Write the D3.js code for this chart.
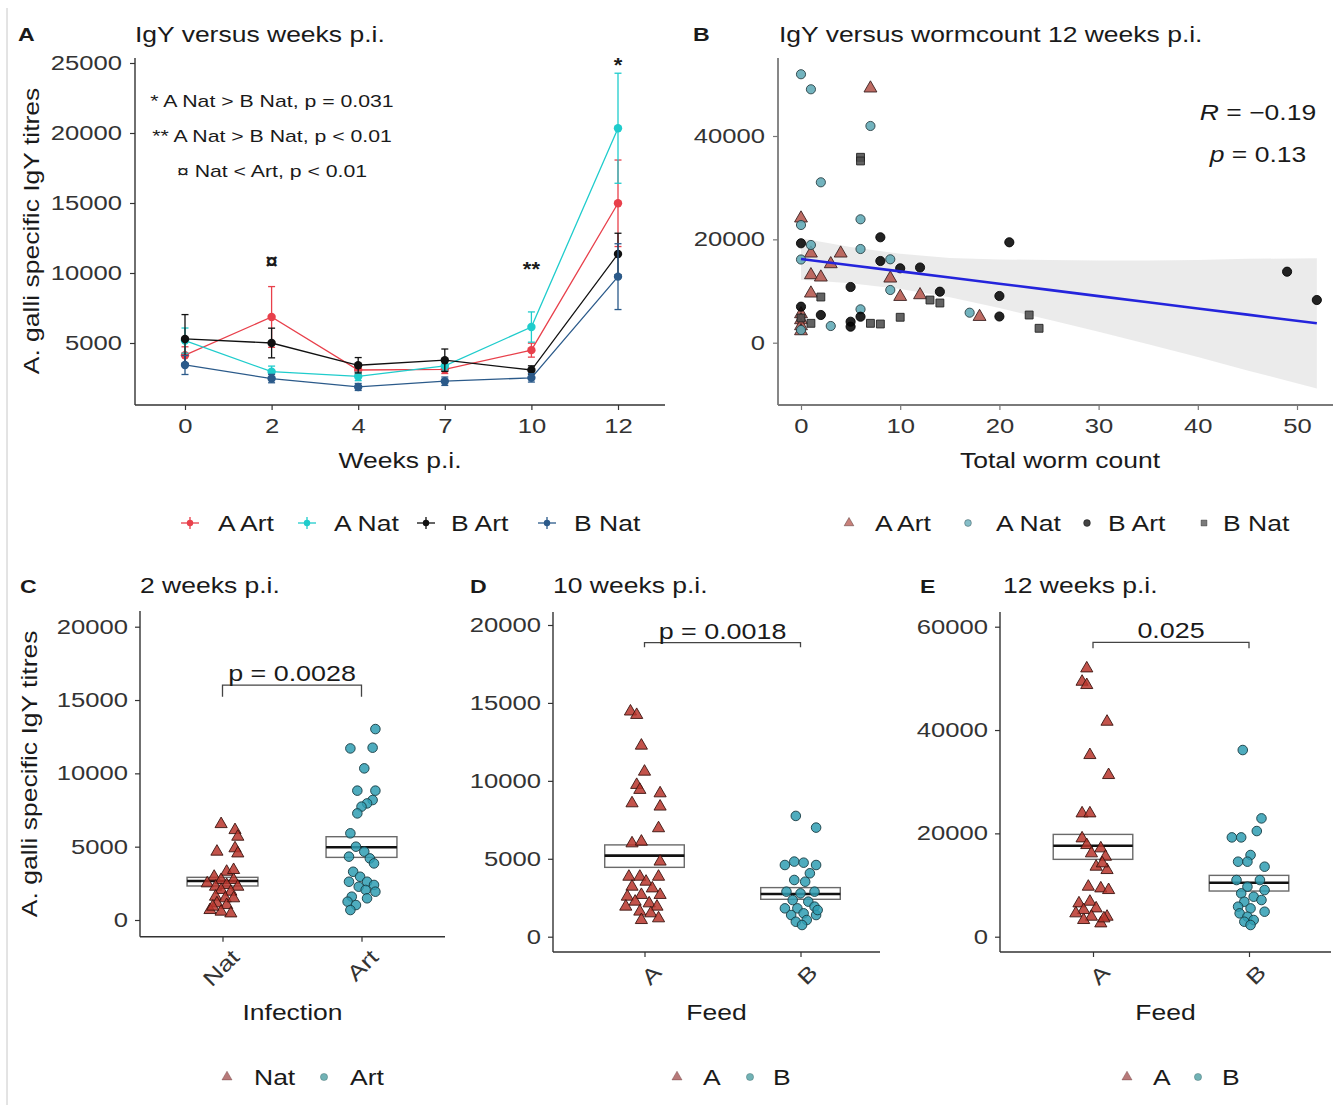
<!DOCTYPE html>
<html>
<head>
<meta charset="utf-8">
<script src="https://cdn.jsdelivr.net/npm/d3@7"></script>
<style>
  body { margin: 0; background: #fff; }
  svg { display: block; font-family: "Liberation Sans", Arial, sans-serif; }
</style>
</head>
<body>
<svg id="fig" width="1333" height="1105"></svg>
<script>
// ---------- Panel A: IgY titres (mean ± SE) by week ----------
const weeks = ["0", "2", "4", "7", "10", "12"];
const groupNames = ["A Art", "A Nat", "B Art", "B Nat"];
const lineColors = ["#e8404b", "#1fcccc", "#111111", "#2b5a8a"];
const meanAArt = [4130, 6860, 3070, 3120, 4490, 14980];
const seAArt   = [600, 2170, 300, 300, 500, 3090];
const meanANat = [5170, 2950, 2610, 3360, 6140, 20340];
const seANat   = [900, 400, 300, 350, 1080, 3930];
const meanBArt = [5290, 5000, 3410, 3770, 3070, 11360];
const seBArt   = [1740, 1060, 550, 800, 300, 1480];
const meanBNat = [3430, 2460, 1860, 2270, 2510, 9740];
const seBNat   = [680, 300, 250, 300, 300, 2350];
const yTicksA = [5000, 10000, 15000, 20000, 25000];
const sigWeeks  = ["2", "10", "12"];
const sigValues = [10930, 10360, 24900];
const sigLabels = ["¤", "**", "*"];
const noteLines = ["* A Nat > B Nat, p = 0.031", "** A Nat > B Nat, p < 0.01", "¤ Nat < Art, p < 0.01"];

// ---------- Panel B: IgY versus worm count at 12 weeks ----------
const wormAArt = [7, 0, 1, 4, 3, 1, 2, 9, 1, 10, 12, 18, 0, 0, 0, 0];
const igyAArt  = [49240, 24080, 17300, 17300, 15230, 13100, 12660, 12460, 9560, 8900, 9230, 5030, 5550, 4390, 3230, 2260];
const wormANat = [0, 1, 7, 2, 0, 6, 1, 6, 0, 9, 9, 17, 3, 6, 0];
const igyANat  = [51950, 49040, 41940, 31040, 22780, 23880, 18910, 18130, 16100, 16140, 10200, 5810, 3230, 6460, 2460];
const wormBArt = [8, 21, 0, 8, 10, 12, 5, 14, 20, 20, 0, 2, 5, 6, 5, 49, 52];
const igyBArt  = [20400, 19430, 19240, 15810, 14400, 14550, 10780, 9870, 9040, 5070, 6970, 5360, 4060, 5030, 3100, 13740, 8260];
const wormBNat = [6, 6, 2, 13, 14, 23, 24, 1, 7, 8, 10, 0];
const igyBNat  = [35880, 35170, 8840, 8260, 7680, 5360, 2790, 3750, 3750, 3620, 4920, 4780];
const fitWorm = [0, 5, 10, 15, 20, 25, 30, 35, 40, 45, 52];
const fitIgY  = [16200, 15000, 13810, 12610, 11410, 10220, 9020, 7820, 6620, 5430, 3750];
const fitLow  = [12200, 11500, 10410, 8810, 6710, 4420, 2120, -280, -2780, -5370, -8850];
const fitHigh = [20200, 18500, 17210, 16410, 16110, 16020, 15920, 15920, 16020, 16230, 16350];
const xTicksB = [0, 10, 20, 30, 40, 50];
const yTicksB = [0, 20000, 40000];

// ---------- Panel C: 2 weeks p.i., by infection ----------
const catsC = ["Nat", "Art"];
const natC = [6540, 6130, 5680, 4660, 4890, 4540, 3290, 3410, 2950, 2730, 2730, 2500, 2270, 2390, 2270, 2050, 1930, 1590, 1480, 1140, 1020, 680, 570, 450, 910, 1480];
const natCJitter = [-0.01, 0.09, 0.11, -0.04, 0.09, 0.11, 0.03, 0.08, -0.06, -0.01, 0.08, -0.11, -0.05, 0.03, 0.11, -0.01, 0.06, -0.05, 0.02, -0.04, 0.03, -0.09, -0.01, 0.06, -0.07, 0.08];
const artC = [13020, 11700, 11750, 10340, 8820, 8820, 8180, 7950, 7730, 7270, 5910, 5000, 4660, 4320, 4200, 3860, 3290, 2950, 2610, 2610, 2390, 2270, 2050, 1930, 1590, 1480, 1250, 1020, 680];
const artCJitter = [0.10, -0.08, 0.08, 0.02, -0.03, 0.10, 0.08, 0.04, 0.00, -0.03, -0.08, -0.04, 0.02, -0.09, 0.06, 0.09, -0.06, -0.01, -0.09, 0.04, 0.09, -0.02, 0.03, 0.10, -0.07, 0.04, -0.10, -0.04, -0.08];
const boxNatC = [2320, 2660, 2910];
const boxArtC = [4270, 4960, 5680];
const ticksC = [0, 5000, 10000, 15000, 20000];

// ---------- Panel D: 10 weeks p.i., by feed ----------
const catsFeed = ["A", "B"];
const aD = [14450, 14230, 12260, 10590, 9740, 9420, 9200, 8560, 8350, 6960, 5990, 6100, 4820, 3850, 3850, 3850, 3530, 3210, 3100, 2570, 2680, 2680, 2250, 2140, 1930, 1930, 1610, 1500, 1070, 1180];
const aDJitter = [-0.09, -0.05, -0.02, 0, -0.05, -0.03, 0.10, -0.08, 0.10, 0.09, -0.08, -0.02, 0.10, -0.10, -0.03, 0.09, 0.01, -0.08, 0.05, -0.11, -0.02, 0.10, -0.06, 0.03, -0.12, 0.08, -0.03, 0.04, -0.02, 0.09];
const bD = [7750, 7000, 4600, 4820, 4750, 4600, 4070, 3640, 3530, 2890, 2780, 2890, 2350, 2250, 1820, 1820, 1930, 1390, 1500, 1390, 960, 1070, 750, 1710];
const bDJitter = [-0.03, 0.10, -0.10, -0.04, 0.02, 0.10, 0.06, -0.04, 0.03, -0.09, 0, 0.09, -0.05, 0.05, -0.10, -0.02, 0.09, -0.06, 0.02, 0.10, -0.03, 0.04, 0.01, 0.11];
const boxAD = [4450, 5200, 5890];
const boxBD = [2400, 2740, 3150];
const ticksD = [0, 5000, 10000, 15000, 20000];

// ---------- Panel E: 12 weeks p.i., by feed ----------
const aE = [51930, 49350, 48710, 41610, 35160, 31290, 23870, 23870, 19030, 17740, 17100, 16130, 15480, 13550, 12900, 14190, 9680, 9350, 9030, 6450, 6770, 5160, 5480, 4520, 3870, 3870, 3230, 2580, 3550];
const aEJitter = [-0.04, -0.07, -0.04, 0.09, -0.02, 0.10, -0.07, -0.02, -0.07, -0.04, 0.05, -0.01, 0.08, 0.02, 0.09, 0.06, -0.03, 0.05, 0.10, -0.09, -0.02, -0.06, 0.02, -0.11, -0.01, 0.09, -0.06, 0.05, 0.07];
const bE = [36130, 22900, 20450, 19220, 19220, 15810, 14520, 14520, 13550, 10970, 10970, 9680, 9030, 8390, 7740, 6770, 7100, 5810, 5480, 4520, 4840, 3870, 2900, 3230, 2260];
const bEJitter = [-0.04, 0.08, 0.05, -0.11, -0.05, 0.01, -0.07, -0.01, 0.10, -0.08, 0.07, -0.01, 0.10, -0.05, 0.03, -0.03, 0.08, -0.07, 0.01, -0.06, 0.10, -0.01, -0.03, 0.03, 0.01];
const boxAE = [14970, 17610, 19800];
const boxBE = [8840, 10450, 11870];
const ticksE = [0, 20000, 40000, 60000];

// ======================================================================
const svg = d3.select("#fig");
const SX = 1.25;            // horizontal widening of every text run
const INK = "#1a1a1a";
const TICK_TXT = "#333";
const plain = d3.format("d");

function label(g, x, y, s, o = {}) {
  const tf = `translate(${x},${y})` + (o.rotate ? ` rotate(${o.rotate})` : "") + ` scale(${o.sx ?? SX},1)`;
  return g.append("text")
    .attr("transform", tf)
    .attr("font-size", o.size ?? 21.2)
    .attr("font-weight", o.weight ?? null)
    .attr("font-style", o.italic ? "italic" : null)
    .attr("text-anchor", o.anchor ?? "start")
    .attr("fill", o.fill ?? INK)
    .text(s);
}

function finishAxis(g, color) {
  g.attr("font-size", null).attr("font-family", null);
  g.select(".domain").remove();
  g.selectAll(".tick line").attr("stroke", color).attr("stroke-width", 1.2);
  g.selectAll(".tick text").attr("font-size", 20.5).attr("fill", TICK_TXT);
}
function stretchLeft(g) {
  g.selectAll(".tick text").each(function () {
    const t = d3.select(this);
    t.attr("x", +t.attr("x") / SX).attr("transform", `scale(${SX},1)`);
  });
}
function stretchBottom(g) {
  g.selectAll(".tick text").attr("transform", `scale(${SX},1)`);
}
function axisFrame(g, L, R, T, B, color, w) {
  g.append("line").attr("x1", L).attr("x2", L).attr("y1", T).attr("y2", B)
    .attr("stroke", color).attr("stroke-width", w);
  g.append("line").attr("x1", L).attr("x2", R).attr("y1", B).attr("y2", B)
    .attr("stroke", color).attr("stroke-width", w);
}

// thin frame line along the left edge
svg.append("line").attr("x1", 7).attr("x2", 7).attr("y1", 8).attr("y2", 1105)
  .attr("stroke", "#c8c8c8").attr("stroke-width", 1);

// ---------------------------- Panel A ----------------------------
{
  const g = svg.append("g");
  const L = 135, R = 665, T = 58, B = 405;
  const x = d3.scalePoint().domain(weeks).range([185, 618]);
  const y = d3.scaleLinear().domain([0, 25000]).range([413, 63]);

  const ya = g.append("g").attr("transform", `translate(${L},0)`)
    .call(d3.axisLeft(y).tickValues(yTicksA).tickFormat(plain).tickSize(5).tickPadding(8));
  finishAxis(ya, "#333"); stretchLeft(ya);
  const xa = g.append("g").attr("transform", `translate(0,${B})`)
    .call(d3.axisBottom(x).tickSize(5).tickPadding(8));
  finishAxis(xa, "#333"); stretchBottom(xa);
  axisFrame(g, L, R, T, B, "#333", 1.4);

  const means = [meanAArt, meanANat, meanBArt, meanBNat];
  const ses = [seAArt, seANat, seBArt, seBNat];
  groupNames.forEach((name, i) => {
    const rows = weeks.map((w, j) => ({ w, m: means[i][j], e: ses[i][j] }));
    const col = lineColors[i];
    const sg = g.append("g");
    sg.selectAll("line.bar").data(rows).join("line")
      .attr("x1", d => x(d.w)).attr("x2", d => x(d.w))
      .attr("y1", d => y(d.m - d.e)).attr("y2", d => y(d.m + d.e))
      .attr("stroke", col).attr("stroke-width", 1.3);
    [-1, 1].forEach(sgn => {
      sg.selectAll(null).data(rows).join("line")
        .attr("x1", d => x(d.w) - 3.5).attr("x2", d => x(d.w) + 3.5)
        .attr("y1", d => y(d.m + sgn * d.e)).attr("y2", d => y(d.m + sgn * d.e))
        .attr("stroke", col).attr("stroke-width", 1.3);
    });
    sg.append("path").datum(rows)
      .attr("d", d3.line().x(d => x(d.w)).y(d => y(d.m)))
      .attr("fill", "none").attr("stroke", col).attr("stroke-width", 1.3);
    sg.selectAll("circle").data(rows).join("circle")
      .attr("cx", d => x(d.w)).attr("cy", d => y(d.m)).attr("r", 4.2)
      .attr("fill", col);
  });

  sigWeeks.forEach((w, i) => {
    label(g, x(w), y(sigValues[i]) + 8, sigLabels[i], { size: 20, anchor: "middle", sx: 1.1, weight: "bold" });
  });
  noteLines.forEach((s, i) => {
    label(g, 272, 107 + i * 35, s, { size: 17, anchor: "middle" });
  });

  label(g, 18, 41, "A", { size: 18.5, weight: "bold" });
  label(g, 135, 42, "IgY versus weeks p.i.", { size: 21.2 });
  label(g, 400, 468, "Weeks p.i.", { size: 21.2, anchor: "middle" });
  label(g, 39, 231, "A. galli specific IgY titres", { size: 21.2, anchor: "middle", rotate: -90 });

  const keyX = [190, 307, 426, 547], textX = [218, 334, 451, 574];
  groupNames.forEach((name, i) => {
    const kg = g.append("g").attr("transform", `translate(${keyX[i]},523)`);
    kg.append("line").attr("x1", -9).attr("x2", 9).attr("stroke", lineColors[i]).attr("stroke-width", 1.3);
    kg.append("line").attr("y1", -6).attr("y2", 6).attr("stroke", lineColors[i]).attr("stroke-width", 1.3);
    kg.append("circle").attr("r", 3.2).attr("fill", lineColors[i]);
    label(g, textX[i], 531, name, { size: 21.2 });
  });
}

// ---------------------------- Panel B ----------------------------
{
  const g = svg.append("g");
  const L = 778, R = 1333, T = 58, B = 405;
  const x = d3.scaleLinear().domain([0, 50]).range([801, 1297]);
  const y = d3.scaleLinear().domain([0, 40000]).range([342.7, 136]);

  const ya = g.append("g").attr("transform", `translate(${L},0)`)
    .call(d3.axisLeft(y).tickValues(yTicksB).tickFormat(plain).tickSize(5).tickPadding(8));
  finishAxis(ya, "#777"); stretchLeft(ya);
  const xa = g.append("g").attr("transform", `translate(0,${B})`)
    .call(d3.axisBottom(x).tickValues(xTicksB).tickFormat(plain).tickSize(5).tickPadding(8));
  finishAxis(xa, "#777"); stretchBottom(xa);
  axisFrame(g, L, R, T, B, "#7a7a7a", 1.8);

  const fit = fitWorm.map((w, i) => ({ w, m: fitIgY[i], lo: fitLow[i], hi: fitHigh[i] }));
  g.append("path").datum(fit)
    .attr("d", d3.area().x(d => x(d.w)).y0(d => y(d.lo)).y1(d => y(d.hi)))
    .attr("fill", "#999").attr("fill-opacity", 0.2);

  const groups = [
    { w: wormAArt, v: igyAArt, shape: d3.symbolTriangle, size: 72, fill: "#b5574d", stroke: "#3a2020" },
    { w: wormANat, v: igyANat, shape: d3.symbolCircle, size: 66, fill: "#5ea8b5", stroke: "#2a3f44" },
    { w: wormBArt, v: igyBArt, shape: d3.symbolCircle, size: 66, fill: "#050505", stroke: "#050505" },
    { w: wormBNat, v: igyBNat, shape: d3.symbolSquare, size: 62, fill: "#4d4d4d", stroke: "#222" }
  ];
  groups.forEach(gr => {
    const rows = gr.w.map((w, i) => ({ w, v: gr.v[i] }));
    g.append("g").selectAll("path").data(rows).join("path")
      .attr("d", d3.symbol().type(gr.shape).size(gr.size))
      .attr("transform", d => `translate(${x(d.w)},${y(d.v)})`)
      .attr("fill", gr.fill).attr("fill-opacity", 0.88)
      .attr("stroke", gr.stroke).attr("stroke-width", 0.9);
  });

  g.append("path").datum(fit)
    .attr("d", d3.line().x(d => x(d.w)).y(d => y(d.m)))
    .attr("fill", "none").attr("stroke", "#2424dc").attr("stroke-width", 2.6);

  // correlation label
  const r1 = g.append("text").attr("transform", `translate(1258,120) scale(${SX},1)`)
    .attr("font-size", 21.2).attr("text-anchor", "middle").attr("fill", INK);
  r1.append("tspan").attr("font-style", "italic").text("R");
  r1.append("tspan").text(" = −0.19");
  const r2 = g.append("text").attr("transform", `translate(1258,162) scale(${SX},1)`)
    .attr("font-size", 21.2).attr("text-anchor", "middle").attr("fill", INK);
  r2.append("tspan").attr("font-style", "italic").text("p");
  r2.append("tspan").text(" = 0.13");

  label(g, 693, 41, "B", { size: 18.5, weight: "bold" });
  label(g, 779, 42, "IgY versus wormcount 12 weeks p.i.", { size: 21.2 });
  label(g, 1060, 468, "Total worm count", { size: 21.2, anchor: "middle" });

  const keyX = [849, 968, 1087, 1204], textX = [875, 996, 1108, 1223];
  groups.forEach((gr, i) => {
    g.append("path")
      .attr("d", d3.symbol().type(gr.shape).size(gr.size * 0.55))
      .attr("transform", `translate(${keyX[i]},523)`)
      .attr("fill", gr.fill).attr("fill-opacity", 0.75)
      .attr("stroke", gr.stroke).attr("stroke-opacity", 0.6).attr("stroke-width", 0.7);
    label(g, textX[i], 531, groupNames[i], { size: 21.2 });
  });
}

// ---------------------------- Panels C, D, E ----------------------------
function stripPanel(p) {
  const g = svg.append("g");
  const x = d3.scalePoint().domain(p.cats).range(p.xRange);
  const step = p.xRange[1] - p.xRange[0];
  const y = d3.scaleLinear().domain([0, p.yTop]).range(p.yRange);

  const ya = g.append("g").attr("transform", `translate(${p.L},0)`)
    .call(d3.axisLeft(y).tickValues(p.ticks).tickFormat(plain).tickSize(5).tickPadding(7));
  finishAxis(ya, "#333"); stretchLeft(ya);
  const xa = g.append("g").attr("transform", `translate(0,${p.B})`)
    .call(d3.axisBottom(x).tickSize(5).tickPadding(0));
  finishAxis(xa, "#333");
  xa.selectAll(".tick text")
    .attr("y", null).attr("dy", "0.72em").attr("text-anchor", "end")
    .attr("font-size", 21.2)
    .attr("transform", `translate(7,11) rotate(-45) scale(${SX},1)`);
  axisFrame(g, p.L, p.R, p.T, p.B, "#333", 1.4);

  // crossbars
  p.boxes.forEach((bx, i) => {
    const cx = x(p.cats[i]), hw = step * 0.255;
    g.append("rect")
      .attr("x", cx - hw).attr("y", y(bx[2]))
      .attr("width", 2 * hw).attr("height", y(bx[0]) - y(bx[2]))
      .attr("fill", "#fff").attr("stroke", "#6a6a6a").attr("stroke-width", 1.4);
    g.append("line")
      .attr("x1", cx - hw).attr("x2", cx + hw)
      .attr("y1", y(bx[1])).attr("y2", y(bx[1]))
      .attr("stroke", "#111").attr("stroke-width", 2.6);
  });

  // jittered points
  const tri = d3.symbol().type(d3.symbolTriangle).size(64);
  const dot = d3.symbol().type(d3.symbolCircle).size(72);
  p.values.forEach((vals, i) => {
    const rows = vals.map((v, k) => ({ v, j: p.jitter[i][k] }));
    g.append("g").selectAll("path").data(rows).join("path")
      .attr("d", i === 0 ? tri : dot)
      .attr("transform", d => `translate(${x(p.cats[i]) + d.j * step},${y(d.v)})`)
      .attr("fill", i === 0 ? "#b8352b" : "#2f9db3").attr("fill-opacity", 0.85)
      .attr("stroke", i === 0 ? "#3a1410" : "#173b42").attr("stroke-width", 0.9);
  });

  // significance bracket
  const x1 = x(p.cats[0]), x2 = x(p.cats[1]);
  g.append("path")
    .attr("d", `M${x1},${y(p.bracketTip)}V${y(p.bracketBar)}H${x2}V${y(p.bracketTip)}`)
    .attr("fill", "none").attr("stroke", "#444").attr("stroke-width", 1.3);
  label(g, (x1 + x2) / 2, y(p.bracketBar) - 4, p.pLabel, { size: 21.5, anchor: "middle" });

  label(g, p.letterX, 593, p.letter, { size: 18.5, weight: "bold" });
  label(g, p.titleX, 593, p.title, { size: 21.2 });
  label(g, (p.L + p.R) / 2, 1020, p.xTitle, { size: 21.2, anchor: "middle" });
  if (p.yTitle) label(g, 37, (p.T + p.B) / 2, p.yTitle, { size: 21.2, anchor: "middle", rotate: -90 });

  // legend
  g.append("path").attr("d", d3.symbol().type(d3.symbolTriangle).size(44))
    .attr("transform", `translate(${p.keyX[0]},1077)`)
    .attr("fill", "#a04e4e").attr("fill-opacity", 0.75)
    .attr("stroke", "#5a2a2a").attr("stroke-opacity", 0.5).attr("stroke-width", 0.7);
  g.append("circle").attr("cx", p.keyX[1]).attr("cy", 1077).attr("r", 3.6)
    .attr("fill", "#4e9fa2").attr("fill-opacity", 0.8)
    .attr("stroke", "#2a5555").attr("stroke-opacity", 0.5).attr("stroke-width", 0.7);
  p.legendText.forEach((s, i) => label(g, p.textX[i], 1085, s, { size: 21.2 }));
}

stripPanel({
  cats: catsC, xRange: [222.5, 361.5], yTop: 20000, yRange: [920, 626.7],
  L: 140, R: 445, T: 611, B: 936.7, ticks: ticksC,
  values: [natC, artC], jitter: [natCJitter, artCJitter], boxes: [boxNatC, boxArtC],
  bracketBar: 16020, bracketTip: 15220, pLabel: "p = 0.0028",
  letter: "C", letterX: 20, title: "2 weeks p.i.", titleX: 140,
  xTitle: "Infection", yTitle: "A. galli specific IgY titres",
  keyX: [227, 324], textX: [254, 350], legendText: ["Nat", "Art"]
});
stripPanel({
  cats: catsFeed, xRange: [644.5, 800.5], yTop: 20000, yRange: [936.7, 625],
  L: 553, R: 880, T: 612, B: 952, ticks: ticksD,
  values: [aD, bD], jitter: [aDJitter, bDJitter], boxes: [boxAD, boxBD],
  bracketBar: 18870, bracketTip: 18570, pLabel: "p = 0.0018",
  letter: "D", letterX: 470, title: "10 weeks p.i.", titleX: 553,
  xTitle: "Feed", yTitle: null,
  keyX: [677, 750], textX: [703, 773], legendText: ["A", "B"]
});
stripPanel({
  cats: catsFeed, xRange: [1093, 1249], yTop: 60000, yRange: [936.7, 626.7],
  L: 1000, R: 1331, T: 612, B: 952, ticks: ticksE,
  values: [aE, bE], jitter: [aEJitter, bEJitter], boxes: [boxAE, boxBE],
  bracketBar: 56980, bracketTip: 55820, pLabel: "0.025",
  letter: "E", letterX: 920, title: "12 weeks p.i.", titleX: 1003,
  xTitle: "Feed", yTitle: null,
  keyX: [1127, 1198], textX: [1153, 1222], legendText: ["A", "B"]
});
</script>
</body>
</html>
